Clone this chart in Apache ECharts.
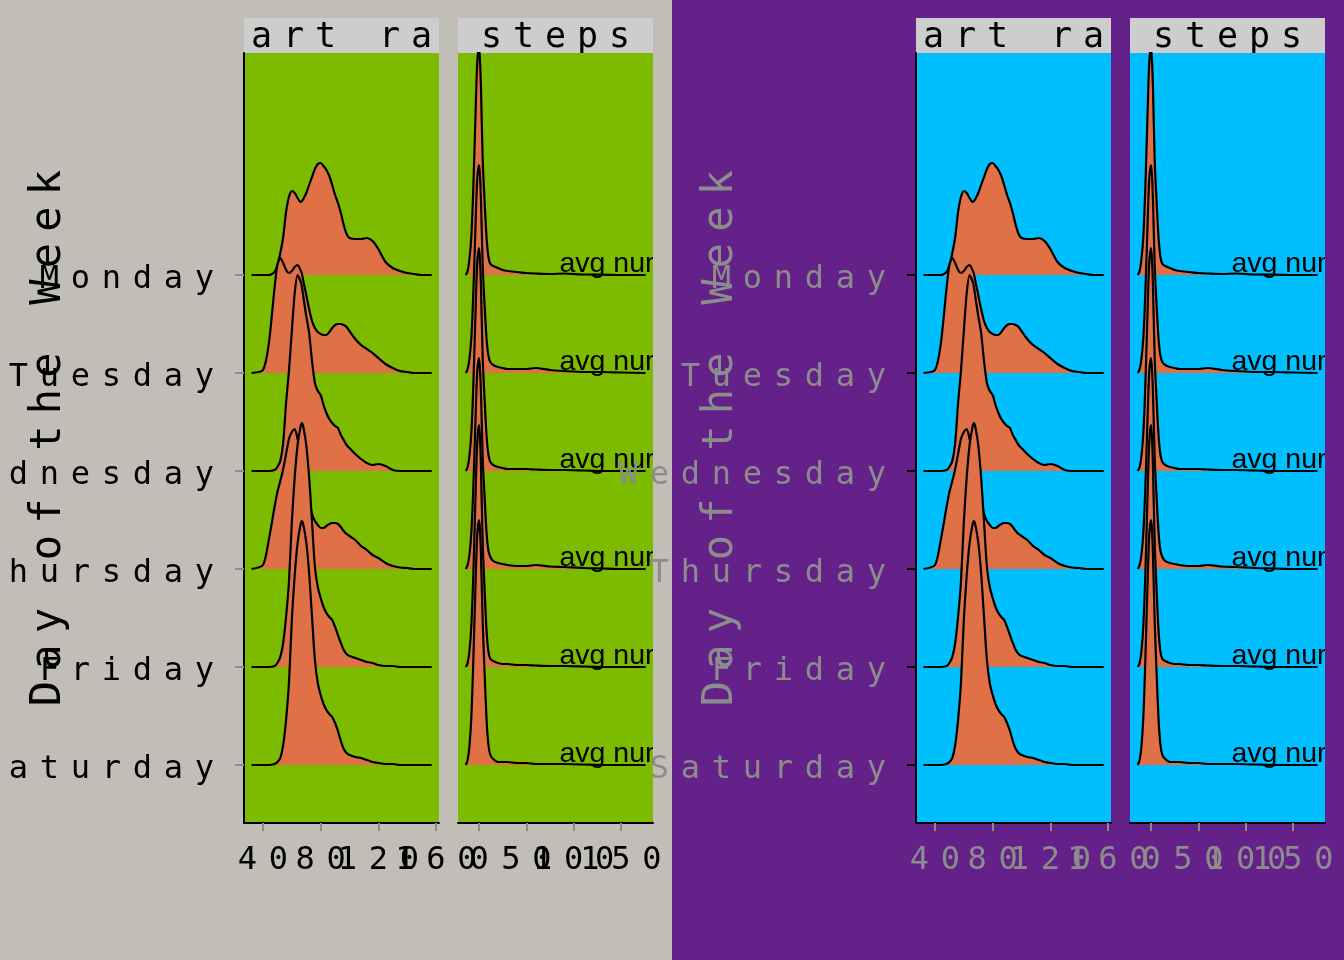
<!DOCTYPE html>
<html><head><meta charset="utf-8">
<script src="https://cdn.jsdelivr.net/npm/echarts@6/dist/echarts.min.js"></script>
<style>html,body{margin:0;padding:0;background:#C1BEB7}#c{width:1344px;height:960px}</style>
</head><body><div id="c"></div>
<script>
// ---------------- data ----------------
const days = ['Monday','Tuesday','Wednesday','Thursday','Friday','Saturday'];
const facetNames = ['heart rate','steps'];
const yTitle = 'Day of the Week';
const hrTicks = [40, 80, 120, 160];
const stepTicks = [0, 50, 100, 150];
const avgLabel = 'avg number of steps';
const avgLabelX = 85;

// heart rate density curves (height in ridge units)
const hrX = [32,40,44,48,50,52,54,56,58,60,62,64,66,67,68,70,72,74,76,78,80,82,84,86,88,90,92,94,96,98,100,104,108,112,116,120,125,130,135,140,145,150,157];
const hrMonday    = [0,0,0,3,10,22,38,63,78,84,82,77,73,74,76,82,90,98,106,111,112,109,105,99,90,80,72,62,50,41,37,36,36,37,34,26,13,7,4,2,1,0,0];
const hrTuesday   = [0,3,29,85,108,115,110,103,100,102,106,108,103,99,92,78,64,52,45,41,39,38,38,41,45,48,49,49,48,46,42,34,28,24,20,15,9,5,2,1,0,0,0];
const hrWednesday = [0,0,0,1,4,10,28,68,100,140,178,196,190,184,174,155,138,110,88,80,76,66,58,52,48,45,43,36,31,26,23,17,12,8,6,7,5,1,0,0,0,0,0];
const hrThursday  = [0,4,29,62,77,88,100,115,130,137,140,130,116,108,100,84,68,55,48,44,41,41,43,45,46,46,45,42,38,35,33,29,23,19,14,11,6,3,1.5,1,0,0,0];
const hrFriday    = [0,0,0,1,4,10,24,50,85,145,190,222,240,244,240,222,190,145,100,80,69,60,54,50,47,40,32,24,17,13,11,9,7,5,4,2,1,1,0,0,0,0,0];
const hrSaturday  = [0,0,0,1,3,7,20,45,82,145,190,222,240,244,240,223,192,148,105,82,70,61,55,51,48,42,34,24,16,12,10,8,7,5,3,2,1,1,0,0,0,0,0];

// steps density curves
const stX = [-14,-12,-10,-8,-6,-4,-2,0,1,2,4,6,8,10,12,15,20,25,30,40,50,60,75,90,110,130,150,176];
const stMonday    = [0,4,17,40,88,150,210,228,215,190,112,72,37,18,11,9,7,5,4,3,2,1.5,1,1.5,0.5,0.3,0,0];
const stTuesday   = [0,4,15,37,80,138,192,208,198,175,105,66,34,17,11,8,6,5,4,4,4,5,3,2,1,1,0.5,0];
const stWednesday = [0,4,16,40,86,148,206,223,212,186,110,70,35,16,9,6,4,3,2,2,2,1.5,1,1,0.5,0,0,0];
const stThursday  = [0,4,15,38,82,140,195,211,200,178,108,70,36,18,12,8,6,5,4,3,3,4,2.5,2,1,0.5,0,0];
const stFriday    = [0,4,17,43,93,160,222,242,230,202,120,75,36,15,8,6,4,3,3,2,2,1.5,1,1,0.5,0,0,0];
const stSaturday  = [0,5,20,50,105,170,228,245,236,212,140,90,45,20,10,6,3,3,3,2,2,1,1,1,0.5,0,0,0];

const hrData = [hrMonday,hrTuesday,hrWednesday,hrThursday,hrFriday,hrSaturday];
const stData = [stMonday,stTuesday,stWednesday,stThursday,stFriday,stSaturday];

// ---------------- layout / style ----------------
const heightScale = 1/98;
const yMin = -0.5918, yMax = 7.2653;
const hrRange = [26.82, 162.08];
const stRange = [-22.2, 183.8];
const mono = 'DejaVu Sans Mono';
const fillColor = '#E07046';

const halves = [
  {ox:0,   panel:'#7CBB00', text:'#000000', xtick:'#8C8C8C', ytick:'#8C8C8C', z:2},
  {ox:672, panel:'#00BFFF', text:'#8C8C8C', xtick:'#8C8C8C', ytick:'#000000', z:40}
];

function spaced(str, key){ return str.split('').map(ch => '{' + key + '|' + ch + '}').join(''); }
function dayPos(i){ return days.length - 1 - i; }

const grid = [], xAxis = [], yAxis = [], series = [];
const graphic = [{type:'rect', shape:{x:672, y:0, width:672, height:960}, style:{fill:'#64218A'}, z:-100, silent:true}];

halves.forEach((h, hi) => {
  const panels = [
    {left:h.ox+244, range:hrRange, ticks:hrTicks, xs:hrX, data:hrData, showY:true},
    {left:h.ox+458, range:stRange, ticks:stepTicks, xs:stX, data:stData, showY:false}
  ];
  panels.forEach((p, pi) => {
    const gi = grid.length;
    grid.push({left:p.left, top:53, width:195, height:770, show:true, backgroundColor:h.panel, borderWidth:0,
      containLabel:false, outerBoundsMode:'none'});
    const labelRich = {c:{width:31, align:'center', fontFamily:mono, fontSize:32, color:h.text, padding:[10,0,0,0]}};
    // main x axis (line, ticks, labels of alternate ticks)
    const xi = xAxis.length;
    const evenTicks = p.ticks.filter((t, k) => k % 2 === 0);
    const oddTicks = p.ticks.filter((t, k) => k % 2 === 1);
    xAxis.push({
      gridIndex:gi, type:'value', position:'bottom', offset:0, min:p.range[0], max:p.range[1], z:h.z,
      axisLine:{show:true, onZero:false, lineStyle:{color:'#000', width:2}},
      axisTick:{show:true, customValues:p.ticks, length:8, lineStyle:{color:h.xtick, width:2}},
      axisLabel:{show:true, customValues:evenTicks, margin:12, hideOverlap:false,
        formatter:v => spaced(String(v),'c'), rich:labelRich},
      splitLine:{show:false}
    });
    // companion x axis carrying the remaining tick labels (same scale)
    xAxis.push({
      gridIndex:gi, type:'value', position:'bottom', offset:0, min:p.range[0], max:p.range[1], z:h.z,
      axisLine:{show:false, onZero:false}, axisTick:{show:false},
      axisLabel:{show:true, customValues:oddTicks, margin:12, hideOverlap:false,
        formatter:v => spaced(String(v),'c'), rich:labelRich},
      splitLine:{show:false}
    });
    const yi = yAxis.length;
    const ya = {
      gridIndex:gi, type:'value', min:yMin, max:yMax, z:h.z,
      axisLine:{show:p.showY, onZero:false, lineStyle:{color:'#000', width:2}},
      axisTick:{show:p.showY, customValues:[0,1,2,3,4,5], length:9, lineStyle:{color:h.ytick, width:2}},
      axisLabel:{show:p.showY, customValues:[0,1,2,3,4,5], margin:24, hideOverlap:false,
        formatter:v => spaced(days[days.length-1-Math.round(v)],'c'), rich:labelRich},
      splitLine:{show:false}
    };
    if (p.showY){
      ya.name = spaced(yTitle,'t');
      ya.nameLocation = 'middle';
      ya.nameRotate = 90;
      ya.nameGap = 174;
      ya.nameMoveOverlap = false;
      ya.nameTextStyle = {rich:{t:{width:36.5, align:'center', fontFamily:mono, fontSize:42, color:h.text}}};
    }
    yAxis.push(ya);

    days.forEach((d, i) => {
      const base = dayPos(i);
      const hs = p.data[i];
      series.push({
        type:'line', name:d + ' ' + facetNames[pi], xAxisIndex:xi, yAxisIndex:yi,
        data:p.xs.map((x, j) => [x, base + hs[j]*heightScale]),
        showSymbol:false, symbol:'none', smooth:0.25, clip:true, silent:true, z:h.z + i,
        lineStyle:{color:'#000', width:2.2},
        areaStyle:{color:fillColor, opacity:1, origin:base}
      });
    });

    if (pi === 1){
      series.push({
        type:'custom', xAxisIndex:xi, yAxisIndex:yi, clip:true, silent:true, z:h.z + 10,
        data:days.map((d, i) => [avgLabelX, dayPos(i)]),
        renderItem:(params, api) => {
          const c = api.coord([api.value(0), api.value(1)]);
          return {type:'text', x:c[0], y:c[1] + 4,
            style:{text:avgLabel, fill:'#000', font:'28.5px "Liberation Sans"', align:'left', verticalAlign:'bottom'}};
        }
      });
    }

    const si = grid.length;
    grid.push({left:p.left, top:18, width:195, height:35, show:true, backgroundColor:'#CDCDCD', borderWidth:0,
      containLabel:false, outerBoundsMode:'none'});
    const sxi = xAxis.length, syi = yAxis.length;
    xAxis.push({gridIndex:si, type:'value', min:0, max:1, show:false});
    yAxis.push({gridIndex:si, type:'value', min:0, max:1, show:false});
    series.push({
      type:'custom', xAxisIndex:sxi, yAxisIndex:syi, clip:true, silent:true, z:h.z,
      data:[[0.5, 0.5, pi]],
      renderItem:(params, api) => {
        const c = api.coord([0.5, 0.5]);
        return {type:'text', x:c[0], y:c[1] + 2,
          style:{text:spaced(facetNames[pi],'s'), align:'center', verticalAlign:'middle',
            rich:{s:{width:32, align:'center', fontFamily:mono, fontSize:35, fill:'#000'}}}};
      }
    });
  });
});

const chart = echarts.init(document.getElementById('c'), null, {renderer:'canvas'});
chart.setOption({
  backgroundColor:'#C1BEB7',
  animation:false,
  grid, xAxis, yAxis, series, graphic
});
</script>
</body></html>
